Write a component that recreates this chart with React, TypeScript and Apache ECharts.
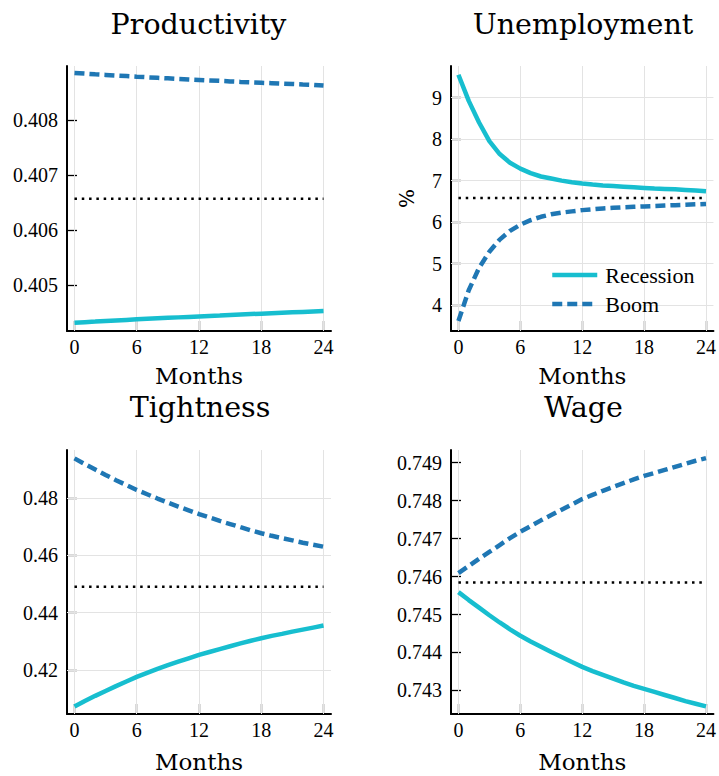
import React, { useEffect, useRef } from 'react';
import * as echarts from 'echarts';

const months = [0, 1, 2, 3, 4, 5, 6, 7, 8, 9, 10, 11, 12, 13, 14, 15, 16, 17, 18, 19, 20, 21, 22, 23, 24];
const monthTicks = [0, 6, 12, 18, 24];

const titles = ['Productivity', 'Unemployment', 'Tightness', 'Wage'];

const productivityRecession = [0.404315, 0.404325, 0.404335, 0.404346, 0.404356, 0.404366, 0.404376, 0.404385, 0.404394, 0.404403, 0.404412, 0.404421, 0.404430, 0.404439, 0.404447, 0.404456, 0.404464, 0.404472, 0.404480, 0.404488, 0.404496, 0.404504, 0.404512, 0.404520, 0.404527];
const productivityBoom = [0.408860, 0.408848, 0.408836, 0.408825, 0.408814, 0.408803, 0.408792, 0.408782, 0.408772, 0.408762, 0.408752, 0.408743, 0.408734, 0.408725, 0.408716, 0.408707, 0.408698, 0.408690, 0.408682, 0.408674, 0.408666, 0.408659, 0.408651, 0.408644, 0.408630];
const productivitySteady = 0.40657;
const productivityTicks = [0.405, 0.406, 0.407, 0.408];

const unemploymentRecession = [9.55, 8.92, 8.40, 7.95, 7.64, 7.43, 7.29, 7.18, 7.10, 7.05, 7.00, 6.96, 6.93, 6.905, 6.885, 6.87, 6.855, 6.84, 6.825, 6.81, 6.80, 6.79, 6.775, 6.76, 6.745];
const unemploymentBoom = [3.62, 4.36, 4.90, 5.29, 5.58, 5.79, 5.94, 6.05, 6.13, 6.19, 6.23, 6.26, 6.29, 6.31, 6.33, 6.345, 6.36, 6.37, 6.38, 6.39, 6.40, 6.41, 6.42, 6.43, 6.44];
const unemploymentSteady = 6.58;
const unemploymentTicks = [4, 5, 6, 7, 8, 9];

const tightnessRecession = [0.4073, 0.4092, 0.4110, 0.4127, 0.4144, 0.4160, 0.4176, 0.4190, 0.4204, 0.4217, 0.4229, 0.4241, 0.4253, 0.4263, 0.4273, 0.4283, 0.4293, 0.4302, 0.4311, 0.4319, 0.4326, 0.4334, 0.4341, 0.4348, 0.4355];
const tightnessBoom = [0.4938, 0.4918, 0.4899, 0.4880, 0.4862, 0.4845, 0.4828, 0.4813, 0.4798, 0.4784, 0.4770, 0.4757, 0.4744, 0.4732, 0.4720, 0.4709, 0.4698, 0.4687, 0.4677, 0.4668, 0.4660, 0.4652, 0.4644, 0.4637, 0.4630];
const tightnessSteady = 0.44906;
const tightnessTicks = [0.42, 0.44, 0.46, 0.48];

const wageRecession = [0.74559, 0.74538, 0.74518, 0.74498, 0.74479, 0.74461, 0.74444, 0.74429, 0.74415, 0.74401, 0.74388, 0.74375, 0.74362, 0.74351, 0.74341, 0.74331, 0.74321, 0.74312, 0.74304, 0.74296, 0.74288, 0.74280, 0.74272, 0.74265, 0.74258];
const wageBoom = [0.74609, 0.74628, 0.74647, 0.74665, 0.74683, 0.74701, 0.74718, 0.74733, 0.74748, 0.74762, 0.74776, 0.74790, 0.74804, 0.74815, 0.74826, 0.74836, 0.74846, 0.74856, 0.74865, 0.74873, 0.74881, 0.74889, 0.74897, 0.74905, 0.74912];
const wageSteady = 0.745842;
const wageTicks = [0.743, 0.744, 0.745, 0.746, 0.747, 0.748, 0.749];

const WORD_FONT = '"DejaVu Serif", serif';
const NUM_FONT = '"Liberation Serif", serif';
const REC_COLOR = '#17becf';
const BOOM_COLOR = '#1f77b4';
const LINE_W = 4.5;
const DASH = [10, 5];

export default function App() {
  const ref = useRef<HTMLDivElement>(null);

  useEffect(() => {
    if (!ref.current) return;
    const chart = echarts.init(ref.current, null, { renderer: 'svg' });

    const panels = [
      { rec: productivityRecession, boom: productivityBoom, ss: productivitySteady, ticks: productivityTicks, min: 0.404164, max: 0.408987, dec: 3 },
      { rec: unemploymentRecession, boom: unemploymentBoom, ss: unemploymentSteady, ticks: unemploymentTicks, min: 3.38, max: 9.76, dec: 0 },
      { rec: tightnessRecession, boom: tightnessBoom, ss: tightnessSteady, ticks: tightnessTicks, min: 0.40467, max: 0.49672, dec: 2 },
      { rec: wageRecession, boom: wageBoom, ss: wageSteady, ticks: wageTicks, min: 0.742379, max: 0.749334, dec: 3 },
    ];

    const layout = [
      { left: 67, top: 66, width: 264, height: 265, titleX: 198.5, titleY: 24, nameGap: 45 },
      { left: 451, top: 66, width: 264, height: 265, titleX: 583, titleY: 24, nameGap: 45 },
      { left: 67, top: 450, width: 264, height: 264, titleX: 200, titleY: 407.5, nameGap: 48 },
      { left: 451, top: 450, width: 264, height: 264, titleX: 583.5, titleY: 407.5, nameGap: 48 },
    ];

    const grid: any[] = [];
    const xAxis: any[] = [];
    const yAxis: any[] = [];
    const series: any[] = [];
    const graphic: any[] = [];

    panels.forEach((p, i) => {
      const L = layout[i];
      grid.push({ left: L.left, top: L.top, width: L.width, height: L.height, containLabel: false });
      xAxis.push({
        gridIndex: i,
        type: 'value',
        min: -0.72,
        max: 24.72,
        name: 'Months',
        nameLocation: 'middle',
        nameGap: L.nameGap,
        nameTextStyle: { fontFamily: WORD_FONT, fontSize: 23, color: '#000', verticalAlign: 'middle' },
        axisLine: { show: true, onZero: false, lineStyle: { color: '#000', width: 2 } },
        axisTick: { show: true, inside: true, length: 10, customValues: monthTicks, lineStyle: { color: '#000', width: 1.3 } },
        axisLabel: { customValues: monthTicks, margin: 6, fontFamily: NUM_FONT, fontSize: 20, color: '#000' },
        splitLine: { show: false },
      });
      yAxis.push({
        gridIndex: i,
        type: 'value',
        min: p.min,
        max: p.max,
        name: i === 1 ? '%' : '',
        nameLocation: 'middle',
        nameRotate: 90,
        nameGap: 34,
        nameTextStyle: { fontFamily: WORD_FONT, fontSize: 20, color: '#000' },
        axisLine: { show: true, onZero: false, lineStyle: { color: '#000', width: 2 } },
        axisTick: { show: true, inside: true, length: 10, customValues: p.ticks, lineStyle: { color: '#000', width: 1.3 } },
        axisLabel: {
          customValues: p.ticks,
          margin: 9,
          fontFamily: NUM_FONT,
          fontSize: 20,
          color: '#000',
          formatter: (v: number) => v.toFixed(p.dec),
        },
        splitLine: { show: false },
      });
      series.push({
        name: 'Steady state',
        type: 'line',
        xAxisIndex: i,
        yAxisIndex: i,
        data: [[months[0], p.ss], [months[months.length - 1], p.ss]],
        showSymbol: false,
        symbol: 'none',
        silent: true,
        lineStyle: { color: '#000', width: 2.5, type: [2.5, 4.8] },
        z: 3,
        markLine: {
          silent: true,
          z: 1,
          symbol: ['none', 'none'],
          label: { show: false },
          lineStyle: { color: '#e3e3e3', width: 1, type: 'solid' },
          emphasis: { disabled: true },
          data: [...monthTicks.map((v) => ({ xAxis: v })), ...p.ticks.map((v) => ({ yAxis: v }))],
        },
      });
      series.push({
        name: 'Recession',
        type: 'line',
        xAxisIndex: i,
        yAxisIndex: i,
        data: months.map((m, k) => [m, p.rec[k]]),
        showSymbol: false,
        symbol: 'none',
        lineStyle: { color: REC_COLOR, width: LINE_W },
        itemStyle: { color: REC_COLOR },
        z: 4,
      });
      series.push({
        name: 'Boom',
        type: 'line',
        xAxisIndex: i,
        yAxisIndex: i,
        data: months.map((m, k) => [m, p.boom[k]]),
        showSymbol: false,
        symbol: 'none',
        lineStyle: { color: BOOM_COLOR, width: LINE_W, type: DASH },
        itemStyle: { color: BOOM_COLOR },
        z: 4,
      });
      graphic.push({
        type: 'text',
        x: L.titleX,
        y: L.titleY,
        style: {
          text: titles[i],
          fontFamily: WORD_FONT,
          fontSize: 28.5,
          fill: '#000',
          align: 'center',
          verticalAlign: 'middle',
        },
      });
    });

    chart.setOption({
      animation: false,
      backgroundColor: '#fff',
      grid,
      xAxis,
      yAxis,
      series,
      graphic,
      legend: {
        show: true,
        data: [
          { name: 'Recession', lineStyle: { width: LINE_W, color: REC_COLOR, type: 'solid' } },
          { name: 'Boom', lineStyle: { width: LINE_W, color: BOOM_COLOR, type: DASH } },
        ],
        orient: 'vertical',
        left: 550,
        top: 264,
        padding: 0,
        itemWidth: 45,
        itemHeight: 14,
        itemGap: 7,
        selectedMode: false,
        itemStyle: { opacity: 0 },
        textStyle: { fontFamily: NUM_FONT, fontSize: 22, color: '#000', padding: [0, 0, 0, 3] },
      },
    });

    return () => chart.dispose();
  }, []);

  return (
    <div
      ref={ref}
      style={{ position: 'absolute', left: 0, top: 0, width: 719, height: 776, background: '#fff' }}
    />
  );
}
